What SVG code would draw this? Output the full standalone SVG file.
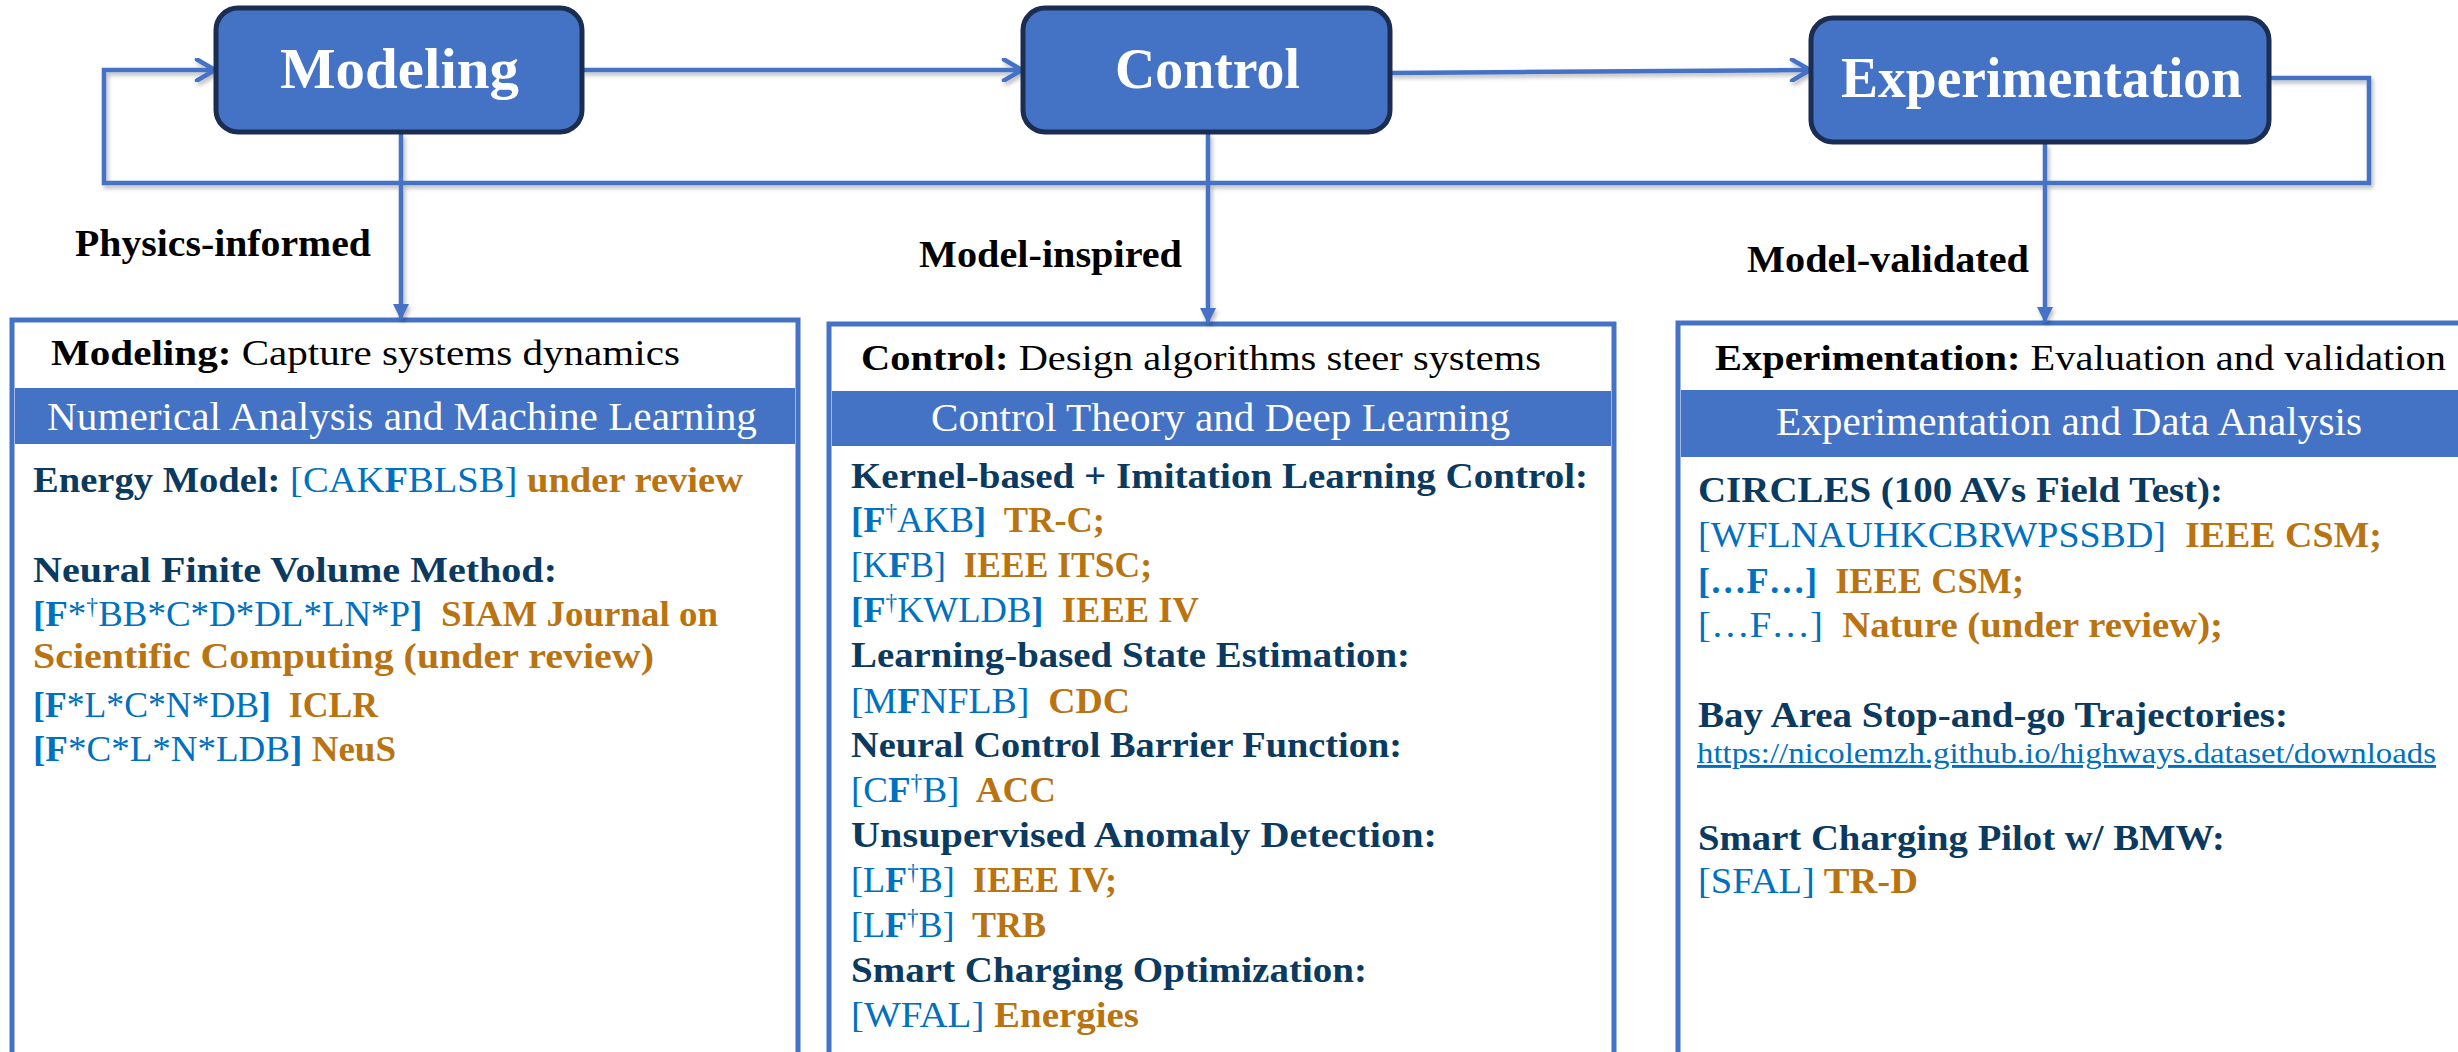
<svg xmlns="http://www.w3.org/2000/svg" width="2458" height="1052" viewBox="0 0 2458 1052" font-family="'Liberation Serif', 'Times New Roman', Times, serif">
  <style>
    text, tspan { font-family: "Liberation Serif", "Times New Roman", Times, serif; }
    .box { fill: #4472C4; stroke: #1B2E52; stroke-width: 5; }
    .boxlabel { font-size: 58px; font-weight: bold; fill: #FFFFFF; }
    .stage { font-size: 37px; font-weight: bold; fill: #000000; }
    .panel { fill: #FFFFFF; stroke: #4472C4; stroke-width: 5; }
    .band { fill: #4472C4; }
    .title { font-size: 36px; fill: #000000; }
    .bandtext { font-size: 39px; fill: #FFFFFF; }
    .t { font-size: 36px; }
    .hd { font-weight: bold; fill: #0B3A60; }
    .ref { fill: #0070C0; font-weight: normal; }
    .b { font-weight: bold; }
    .ven { font-weight: bold; fill: #BA7311; }
    .link { font-size: 29px; fill: #0070C0; text-decoration: underline; }
    .wire { fill: none; stroke: #4472C4; stroke-width: 4.5; }
  </style>
  <defs>
    <marker id="chev" viewBox="0 0 24 24" markerWidth="24" markerHeight="24" refX="21" refY="12" orient="auto" markerUnits="userSpaceOnUse">
      <path d="M3,1.5 L21,12 L3,22.5" fill="none" stroke="#4472C4" stroke-width="4.5" stroke-linecap="round" stroke-linejoin="round"/>
    </marker>
    <marker id="tri" viewBox="0 0 16 16" markerWidth="16" markerHeight="16" refX="15" refY="8" orient="auto" markerUnits="userSpaceOnUse">
      <path d="M0,0 L16,8 L0,16 z" fill="#4472C4"/>
    </marker>
    <filter id="shadow" x="-5%" y="-20%" width="110%" height="140%">
      <feDropShadow dx="2" dy="3" stdDeviation="2" flood-color="#000000" flood-opacity="0.28"/>
    </filter>
  </defs>

  <rect width="2458" height="1052" fill="#FFFFFF"/>

  <!-- detail panels -->
  <g id="panel-modeling">
    <rect class="panel" x="12" y="320" width="786" height="780"/>
    <rect class="band" x="15" y="388" width="780" height="56"/>
    <text class="title" x="51" y="365" textLength="629" lengthAdjust="spacingAndGlyphs" xml:space="preserve"><tspan font-weight="bold">Modeling:</tspan> Capture systems dynamics</text>
    <text class="bandtext" x="47" y="430" textLength="710" lengthAdjust="spacingAndGlyphs">Numerical Analysis and Machine Learning</text>
    <text class="t" x="33" y="492" textLength="710" lengthAdjust="spacingAndGlyphs" xml:space="preserve"><tspan class="hd">Energy Model: </tspan><tspan class="ref">[CAK<tspan class="b">F</tspan>BLSB]</tspan><tspan class="ven"> under review</tspan></text>
    <text class="t hd" x="33" y="582" textLength="524" lengthAdjust="spacingAndGlyphs">Neural Finite Volume Method:</text>
    <text class="t" x="33" y="626" textLength="685" lengthAdjust="spacingAndGlyphs" xml:space="preserve"><tspan class="ref"><tspan class="b">[F</tspan>*<tspan font-size="23" dy="-12">†</tspan><tspan dy="12">BB*C*D*DL*LN*P</tspan><tspan class="b">]</tspan></tspan><tspan class="ven">  SIAM Journal on</tspan></text>
    <text class="t ven" x="33" y="668" textLength="621" lengthAdjust="spacingAndGlyphs">Scientific Computing (under review)</text>
    <text class="t" x="33" y="717" textLength="345" lengthAdjust="spacingAndGlyphs" xml:space="preserve"><tspan class="ref"><tspan class="b">[F</tspan>*L*C*N*DB<tspan class="b">]</tspan></tspan><tspan class="ven">  ICLR</tspan></text>
    <text class="t" x="33" y="761" textLength="363" lengthAdjust="spacingAndGlyphs" xml:space="preserve"><tspan class="ref"><tspan class="b">[F</tspan>*C*L*N*LDB<tspan class="b">]</tspan></tspan><tspan class="ven"> NeuS</tspan></text>
  </g>

  <g id="panel-control">
    <rect class="panel" x="829" y="324" width="785" height="780"/>
    <rect class="band" x="832" y="391" width="779" height="55"/>
    <text class="title" x="861" y="370" textLength="680" lengthAdjust="spacingAndGlyphs" xml:space="preserve"><tspan font-weight="bold">Control:</tspan> Design algorithms steer systems</text>
    <text class="bandtext" x="931" y="431" textLength="579" lengthAdjust="spacingAndGlyphs">Control Theory and Deep Learning</text>
    <text class="t hd" x="851" y="488" textLength="737" lengthAdjust="spacingAndGlyphs">Kernel-based + Imitation Learning Control:</text>
    <text class="t" x="851" y="532" textLength="254" lengthAdjust="spacingAndGlyphs" xml:space="preserve"><tspan class="ref"><tspan class="b">[F</tspan><tspan font-size="23" dy="-12">†</tspan><tspan dy="12">AKB</tspan><tspan class="b">]</tspan></tspan><tspan class="ven">  TR-C;</tspan></text>
    <text class="t" x="851" y="577" textLength="301" lengthAdjust="spacingAndGlyphs" xml:space="preserve"><tspan class="ref">[K<tspan class="b">F</tspan>B]</tspan><tspan class="ven">  IEEE ITSC;</tspan></text>
    <text class="t" x="851" y="622" textLength="348" lengthAdjust="spacingAndGlyphs" xml:space="preserve"><tspan class="ref"><tspan class="b">[F</tspan><tspan font-size="23" dy="-12">†</tspan><tspan dy="12">KWLDB</tspan><tspan class="b">]</tspan></tspan><tspan class="ven">  IEEE IV</tspan></text>
    <text class="t hd" x="851" y="667" textLength="559" lengthAdjust="spacingAndGlyphs">Learning-based State Estimation:</text>
    <text class="t" x="851" y="713" textLength="279" lengthAdjust="spacingAndGlyphs" xml:space="preserve"><tspan class="ref">[M<tspan class="b">F</tspan>NFLB]</tspan><tspan class="ven">  CDC</tspan></text>
    <text class="t hd" x="851" y="757" textLength="551" lengthAdjust="spacingAndGlyphs">Neural Control Barrier Function:</text>
    <text class="t" x="851" y="802" textLength="205" lengthAdjust="spacingAndGlyphs" xml:space="preserve"><tspan class="ref">[C<tspan class="b">F</tspan><tspan font-size="23" dy="-12">†</tspan><tspan dy="12">B]</tspan></tspan><tspan class="ven">  ACC</tspan></text>
    <text class="t hd" x="851" y="847" textLength="586" lengthAdjust="spacingAndGlyphs">Unsupervised Anomaly Detection:</text>
    <text class="t" x="851" y="892" textLength="266" lengthAdjust="spacingAndGlyphs" xml:space="preserve"><tspan class="ref">[L<tspan class="b">F</tspan><tspan font-size="23" dy="-12">†</tspan><tspan dy="12">B]</tspan></tspan><tspan class="ven">  IEEE IV;</tspan></text>
    <text class="t" x="851" y="937" textLength="195" lengthAdjust="spacingAndGlyphs" xml:space="preserve"><tspan class="ref">[L<tspan class="b">F</tspan><tspan font-size="23" dy="-12">†</tspan><tspan dy="12">B]</tspan></tspan><tspan class="ven">  TRB</tspan></text>
    <text class="t hd" x="851" y="982" textLength="516" lengthAdjust="spacingAndGlyphs">Smart Charging Optimization:</text>
    <text class="t" x="851" y="1027" textLength="288" lengthAdjust="spacingAndGlyphs" xml:space="preserve"><tspan class="ref">[WFAL]</tspan><tspan class="ven"> Energies</tspan></text>
  </g>

  <g id="panel-experimentation">
    <rect class="panel" x="1678" y="323" width="800" height="780"/>
    <rect class="band" x="1681" y="390" width="800" height="67"/>
    <text class="title" x="1715" y="370" textLength="731" lengthAdjust="spacingAndGlyphs" xml:space="preserve"><tspan font-weight="bold">Experimentation:</tspan> Evaluation and validation</text>
    <text class="bandtext" x="1776" y="435" textLength="586" lengthAdjust="spacingAndGlyphs">Experimentation and Data Analysis</text>
    <text class="t hd" x="1698" y="502" textLength="525" lengthAdjust="spacingAndGlyphs">CIRCLES (100 AVs Field Test):</text>
    <text class="t" x="1698" y="547" textLength="684" lengthAdjust="spacingAndGlyphs" xml:space="preserve"><tspan class="ref">[WFLNAUHKCBRWPSSBD]</tspan><tspan class="ven">  IEEE CSM;</tspan></text>
    <text class="t" x="1698" y="593" textLength="326" lengthAdjust="spacingAndGlyphs" xml:space="preserve"><tspan class="ref b">[…F…]</tspan><tspan class="ven">  IEEE CSM;</tspan></text>
    <text class="t" x="1698" y="637" textLength="525" lengthAdjust="spacingAndGlyphs" xml:space="preserve"><tspan class="ref">[…F…]</tspan><tspan class="ven">  Nature (under review);</tspan></text>
    <text class="t hd" x="1698" y="727" textLength="590" lengthAdjust="spacingAndGlyphs">Bay Area Stop-and-go Trajectories:</text>
    <text class="link" x="1697" y="763" textLength="739" lengthAdjust="spacingAndGlyphs">https://nicolemzh.github.io/highways.dataset/downloads</text>
    <text class="t hd" x="1698" y="850" textLength="527" lengthAdjust="spacingAndGlyphs">Smart Charging Pilot w/ BMW:</text>
    <text class="t" x="1698" y="893" textLength="220" lengthAdjust="spacingAndGlyphs" xml:space="preserve"><tspan class="ref">[SFAL]</tspan><tspan class="ven"> TR-D</tspan></text>
  </g>

  <!-- connectors -->
  <g id="connectors" filter="url(#shadow)">
    <path class="wire" d="M582,70 L1022,70" marker-end="url(#chev)"/>
    <path class="wire" d="M1390,73 L1810,70" marker-end="url(#chev)"/>
    <path class="wire" d="M2269,78 H2369 V183 H104 V70 H215" marker-end="url(#chev)"/>
    <path class="wire" d="M401,134 V319" marker-end="url(#tri)"/>
    <path class="wire" d="M1208,134 V323" marker-end="url(#tri)"/>
    <path class="wire" d="M2045,144 V322" marker-end="url(#tri)"/>
  </g>

  <!-- stage labels on the downward links -->
  <g id="labels">
    <text class="stage" x="75" y="256" textLength="296" lengthAdjust="spacingAndGlyphs">Physics-informed</text>
    <text class="stage" x="919" y="267" textLength="263" lengthAdjust="spacingAndGlyphs">Model-inspired</text>
    <text class="stage" x="1747" y="272" textLength="282" lengthAdjust="spacingAndGlyphs">Model-validated</text>
  </g>

  <!-- process boxes -->
  <g id="node-modeling">
    <rect class="box" x="216" y="8" width="366" height="124" rx="22"/>
    <text class="boxlabel" x="280" y="88" textLength="239" lengthAdjust="spacingAndGlyphs">Modeling</text>
  </g>
  <g id="node-control">
    <rect class="box" x="1023" y="8" width="367" height="124" rx="22"/>
    <text class="boxlabel" x="1115" y="88" textLength="185" lengthAdjust="spacingAndGlyphs">Control</text>
  </g>
  <g id="node-experimentation">
    <rect class="box" x="1811" y="18" width="458" height="124" rx="22"/>
    <text class="boxlabel" x="1841" y="97" textLength="401" lengthAdjust="spacingAndGlyphs">Experimentation</text>
  </g>
</svg>
